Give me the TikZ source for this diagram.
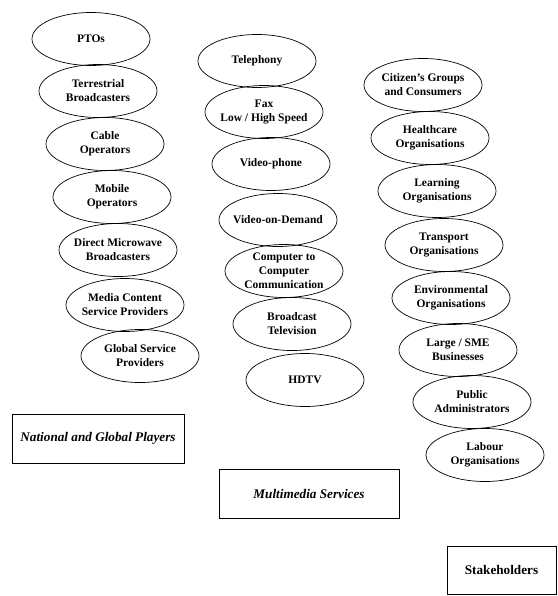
\documentclass[tikz,border=0pt]{standalone}
\usepackage{fontspec}
\setmainfont{Liberation Serif}
\usetikzlibrary{shapes.geometric}

\begin{document}
\begin{tikzpicture}[x=1pt,y=1pt]
		\tikzstyle{every node}+=[inner sep=0pt]
		\tikzstyle{oval}=[draw, ellipse, minimum width=118pt, minimum height=53pt, line width=0.7pt]
		\tikzstyle{words}=[font=\fontsize{11.5}{14}\selectfont\bfseries, align=center]
		\tikzstyle{heading}=[draw, line width=0.8pt, minimum height=49pt, font=\fontsize{13.2}{15}\selectfont\bfseries]
		\useasboundingbox (0,0) rectangle (557,-596);
		% players
		\node [oval, label={[words]center:PTOs}] (pto) at (91,-39) {};
		\node [oval, label={[words]center:Terrestrial\\Broadcasters}] (terr) at (98,-91) {};
		\node [oval, label={[words]center:Cable\\Operators}] (cable) at (105,-144) {};
		\node [oval, label={[words]center:Mobile\\Operators}] (mobile) at (112,-197) {};
		\node [oval, label={[words]center:Direct Microwave\\Broadcasters}] (micro) at (118,-250) {};
		\node [oval, label={[words]center:Media Content\\Service Providers}] (media) at (125,-305) {};
		\node [oval, label={[words]center:Global Service\\Providers}] (global) at (140,-356) {};
		\node [heading, minimum width=172pt] (players) at (98,-438.5) {\itshape National and Global Players};
		% services
		\node [oval, label={[words]center:Telephony}] (tel) at (257,-61) {};
		\node [oval, label={[words]center:Fax\\Low / High Speed}] (fax) at (264,-112) {};
		\node [oval, label={[words]center:Video-phone}] (vphone) at (271,-164) {};
		\node [oval, label={[words]center:Video-on-Demand}] (vod) at (278,-220) {};
		\node [oval, label={[words]center:Computer to\\Computer\\Communication}] (comp) at (284,-271) {};
		\node [oval, label={[words]center:Broadcast\\Television}] (btv) at (292,-324) {};
		\node [oval, label={[words]center:HDTV}] (hdtv) at (305,-380) {};
		\node [heading, minimum width=180pt] (services) at (309,-493.5) {\itshape Multimedia Services};
		% stakeholders
		\node [oval, label={[words]center:Citizen’s Groups\\and Consumers}] (citizen) at (423,-85) {};
		\node [oval, label={[words]center:Healthcare\\Organisations}] (health) at (430,-138) {};
		\node [oval, label={[words]center:Learning\\Organisations}] (learn) at (437,-191) {};
		\node [oval, label={[words]center:Transport\\Organisations}] (trans) at (444,-245) {};
		\node [oval, label={[words]center:Environmental\\Organisations}] (env) at (451,-298) {};
		\node [oval, label={[words]center:Large / SME\\Businesses}] (sme) at (458,-350) {};
		\node [oval, label={[words]center:Public\\Administrators}] (admin) at (472,-402) {};
		\node [oval, label={[words]center:Labour\\Organisations}] (labour) at (485,-455) {};
		\node [heading, minimum width=109pt, minimum height=48pt] (stake) at (501.5,-570) {Stakeholders};
\end{tikzpicture}
\end{document}
